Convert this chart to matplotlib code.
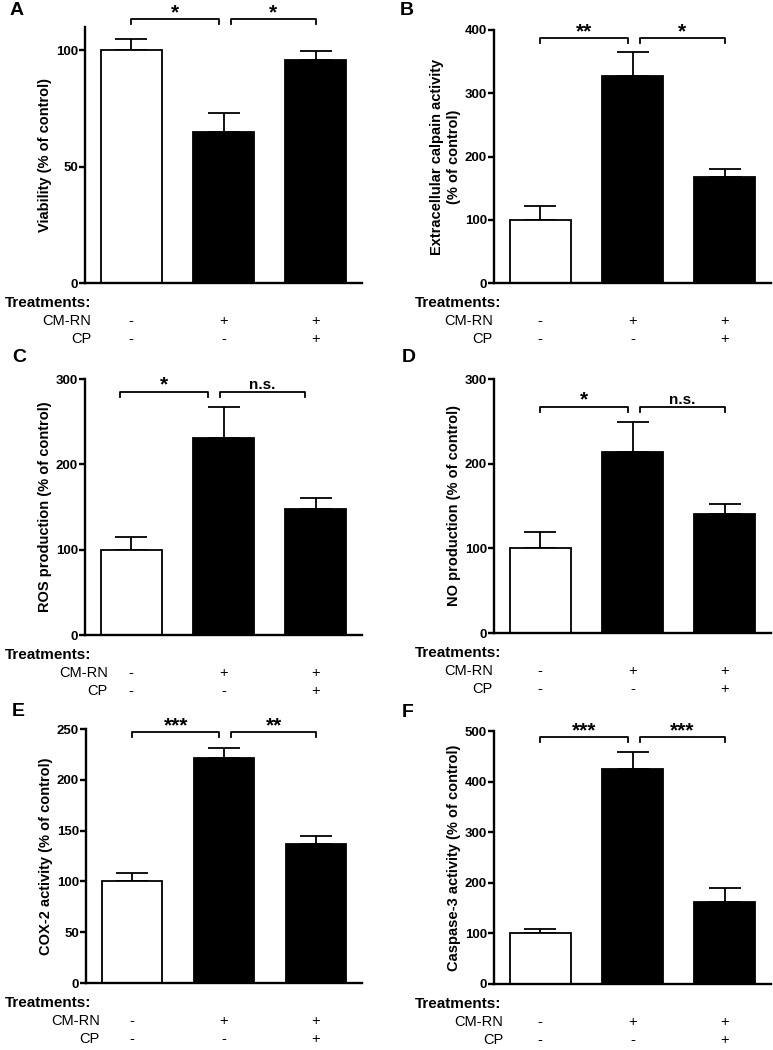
import matplotlib
matplotlib.use('Agg')
import matplotlib.pyplot as plt
import matplotlib.transforms as mtransforms

plt.rcParams['font.family'] = ['Liberation Sans', 'DejaVu Sans']

W, H = 773, 1050

# treatment table under every panel
cmrn_signs = ['-', '+', '+']
cp_signs = ['-', '-', '+']
bar_colors = ['white', 'black', 'black']
xpos = [0, 1, 2]

# values (% of control), upper SEM only
viability = [100, 65, 96]
viability_err = [5, 8, 3.5]
calpain = [100, 328, 168]
calpain_err = [22, 38, 12]
ros = [100, 231, 148]
ros_err = [15, 36, 12]
no_prod = [100, 214, 141]
no_err = [19, 35, 11]
cox2 = [100, 221, 137]
cox2_err = [8, 10, 8]
casp3 = [100, 425, 163]
casp3_err = [8, 33, 26]

ylabels = ['Viability (% of control)',
           'Extracellular calpain activity\n(% of control)',
           'ROS production (% of control)',
           'NO production (% of control)',
           'COX-2 activity (% of control)',
           'Caspase-3 activity (% of control)']
sig_left = ['*', '**', '*', '*', '***', '***']
sig_right = ['*', '*', 'n.s.', 'n.s.', '**', '***']
bracket_y = [113.4, 387, 285, 267.5, 247, 488]

panels = [
    # letter, values, errs, ylim top, tick step, axes box in px (x0, ytop, x1, ybottom),
    # letter pos, label right edge, bracket shift
    ('A', viability, viability_err, 110, 50, (85, 27, 362, 283), (10, 15), 91, 0.0),
    ('B', calpain, calpain_err, 400, 100, (494, 30, 771, 283), (400, 15), 493, 0.0),
    ('C', ros, ros_err, 300, 100, (85, 379, 362, 635), (12, 362), 108, -0.12),
    ('D', no_prod, no_err, 300, 100, (494, 379, 771, 633), (402, 362), 493, 0.0),
    ('E', cox2, cox2_err, 250, 50, (86, 729, 362, 983), (12, 716), 100, 0.0),
    ('F', casp3, casp3_err, 500, 100, (494, 731, 771, 984), (402, 717), 503, 0.0),
]

fig = plt.figure(figsize=(W / 100, H / 100), dpi=100)

for i, (letter, vals, errs, ytop, step, box, lpos, lab_x, shift) in enumerate(panels):
    x0, y0, x1, y1 = box
    ax = fig.add_axes([x0 / W, 1 - y1 / H, (x1 - x0) / W, (y1 - y0) / H])

    ax.errorbar(xpos, vals, yerr=[[0, 0, 0], errs], fmt='none', ecolor='black',
                elinewidth=1.3, capsize=11.5, capthick=1.3, zorder=1)
    ax.bar(xpos, vals, width=0.66, color=bar_colors, edgecolor='black',
           linewidth=1.3, zorder=2)

    ax.set_xlim(-0.5, 2.5)
    ax.set_ylim(0, ytop)
    ax.set_yticks(range(0, int(ytop) + 1, step))
    ax.set_xticks([])
    for s in ['top', 'right']:
        ax.spines[s].set_visible(False)
    for s in ['left', 'bottom']:
        ax.spines[s].set_linewidth(1.7)
    ax.tick_params(axis='y', length=4, width=1.7, labelsize=9.5, pad=1)
    for t in ax.get_yticklabels():
        t.set_fontweight('bold')
    ax.set_ylabel(ylabels[i], fontsize=10.5, fontweight='bold', labelpad=3)

    # significance brackets
    drop = ytop * 5 / (y1 - y0)
    yb = bracket_y[i]
    for (a, b), lab in zip([(0.0, 0.95), (1.08, 2.0)], [sig_left[i], sig_right[i]]):
        a += shift
        b += shift
        ax.plot([a, a, b, b], [yb - drop, yb, yb, yb - drop], color='black',
                lw=1.3, clip_on=False)
        star = lab.startswith('*')
        ax.annotate(lab, xy=((a + b) / 2, yb), xytext=(0, 1 if star else 3),
                    textcoords='offset pixels', ha='center', va='baseline',
                    fontsize=15 if star else 11,
                    fontweight='bold', annotation_clip=False)

    # panel letter
    fig.text(lpos[0] / W, 1 - lpos[1] / H, letter, fontsize=14,
             fontweight='bold', va='baseline', ha='left')

    # treatment table
    tx = 5 if x0 < 300 else 415
    fig.text(tx / W, 1 - (y1 + 20) / H, 'Treatments:', fontsize=11,
             fontweight='bold', va='center', ha='left')
    fig.text(lab_x / W, 1 - (y1 + 38) / H, 'CM-RN', fontsize=10.5,
             va='center', ha='right')
    fig.text(lab_x / W, 1 - (y1 + 56) / H, 'CP', fontsize=10.5,
             va='center', ha='right')
    trans = mtransforms.blended_transform_factory(ax.transData, fig.transFigure)
    for xi, s1, s2 in zip(xpos, cmrn_signs, cp_signs):
        fig.text(xi, 1 - (y1 + 38) / H, s1, transform=trans, fontsize=10.5,
                 va='center', ha='center')
        fig.text(xi, 1 - (y1 + 56) / H, s2, transform=trans, fontsize=10.5,
                 va='center', ha='center')

fig.savefig('out.png', dpi=100)
